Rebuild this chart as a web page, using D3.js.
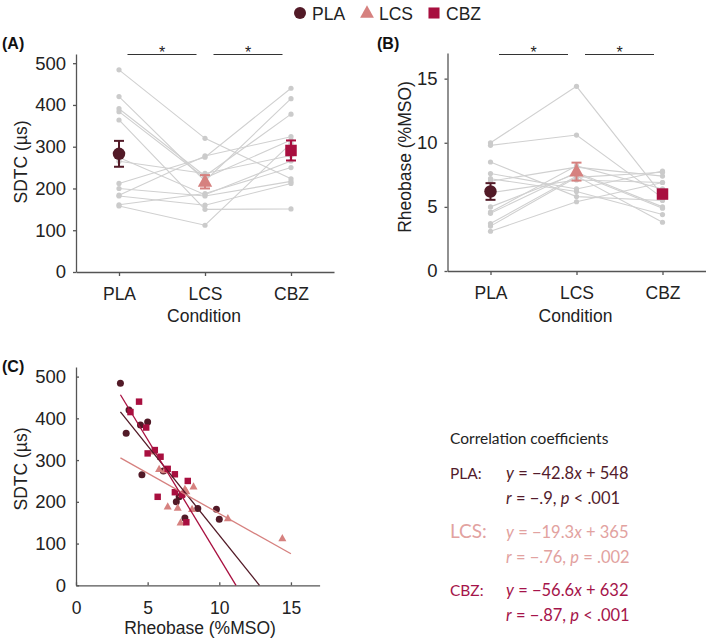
<!DOCTYPE html>
<html>
<head>
<meta charset="utf-8">
<script src="https://cdn.jsdelivr.net/npm/d3@7"></script>
<style>
  html, body { margin: 0; padding: 0; background: #fff; }
  svg { display: block; }
</style>
</head>
<body>
<svg id="chart" width="709" height="644"></svg>
<script>
// ---------------- DATA ----------------
const conditions = ["PLA", "LCS", "CBZ"];

// per-subject values (same subject order in every array)
const sdtcPLA = [484, 158, 182, 364, 212, 184, 200, 161, 274, 420, 391, 384, 265];
const sdtcLCS = [320, 112, 160, 150, 275, 278, 182, 188, 185, 218, 230, 225, 236];
const sdtcCBZ = [223, 308, 212, 151, 440, 324, 217, 250, 266, 415, 378, 316, 279];

const rbPLA = [3.1, 10.0, 9.8, 3.5, 7.2, 8.5, 7.0, 7.6, 6.1, 3.7, 5.0, 4.5, 4.6];
const rbLCS = [5.4, 14.4, 10.6, 7.3, 6.2, 5.8, 8.1, 6.4, 7.1, 7.4, 7.6, 7.7, 8.2];
const rbCBZ = [6.9, 5.9, 5.7, 7.7, 4.4, 5.5, 7.4, 7.8, 6.9, 3.8, 4.9, 5.0, 6.4];

// group means and SEM as plotted
const sdtcMean = [283, 216, 291];
const sdtcSem  = [31, 16, 24];
const rbMean   = [6.2, 7.75, 6.0];
const rbSem    = [0.65, 0.7, 0.3];

// regression lines  (y = slope * x + intercept)
const regSlope     = [-42.8, -19.3, -56.6];
const regIntercept = [548, 365, 632];
const eqText = ["y = \u221242.8x + 548", "y = \u221219.3x + 365", "y = \u221256.6x + 632"];
const rText  = [["r = \u2212.9, ", "p", " < .001"], ["r = \u2212.76, ", "p", " = .002"], ["r = \u2212.87, ", "p", " < .001"]];

const yTicksSDTC = [0, 100, 200, 300, 400, 500];
const yTicksRb   = [0, 5, 10, 15];
const xTicksRb   = [0, 5, 10, 15];

// ---------------- STYLE ----------------
const colors = { PLA: "#521a27", LCS: "#d6817f", CBZ: "#a80f3f" };
const textColors = { PLA: "#531c2c", LCS: "#e2a2a0", CBZ: "#a5144a" };
const grayLine = "#d0d0d0", grayPt = "#cbcbcb", axisColor = "#555";
const FONT = "Liberation Sans, Arial, Helvetica, sans-serif";

const svg = d3.select("#chart");
svg.append("rect").attr("width", 709).attr("height", 644).attr("fill", "#fff");

const sdtc = { PLA: sdtcPLA, LCS: sdtcLCS, CBZ: sdtcCBZ };
const rb = { PLA: rbPLA, LCS: rbLCS, CBZ: rbCBZ };

function marker(g, cond, x, y, size) {
  if (cond === "PLA") {
    g.append("circle").attr("cx", x).attr("cy", y).attr("r", size * 0.5).attr("fill", colors.PLA);
  } else if (cond === "LCS") {
    const s = size * 1.15, h = s * 0.9;
    g.append("path").attr("d", `M${x},${y - h * 0.62}L${x + s / 2},${y + h * 0.38}L${x - s / 2},${y + h * 0.38}Z`).attr("fill", colors.LCS);
  } else {
    const s = size * 0.92;
    g.append("rect").attr("x", x - s / 2).attr("y", y - s / 2).attr("width", s).attr("height", s).attr("fill", colors.CBZ);
  }
}

function styleAxis(g) {
  g.select(".domain").attr("stroke", axisColor).attr("stroke-width", 1.3);
  g.selectAll(".tick line").attr("stroke", axisColor).attr("stroke-width", 1.3);
  g.selectAll(".tick text").attr("fill", "#222").attr("font-size", 17.5).attr("font-family", FONT);
}

// ---------------- LEGEND ----------------
const legend = svg.append("g");
const legX = [300, 367, 434];
conditions.forEach((c, i) => {
  marker(legend, c, legX[i], 13, 12);
  legend.append("text").attr("x", legX[i] + 12).attr("y", 19.5).text(c)
    .attr("font-family", FONT).attr("font-size", 17.5).attr("fill", "#222");
});

// ---------------- PANEL PLOT (A & B) ----------------
function conditionPanel(opts) {
  const { x0, x1, yBottom, yTop, domainMax, values, means, sems, ticks, label, labelX, yTitle, yTitleX, yTitleY } = opts;
  const x = d3.scalePoint().domain(conditions).range([x0, x1]).padding(0.5);
  const y = d3.scaleLinear().domain([0, domainMax]).range([yBottom, yTop]);
  const g = svg.append("g");

  // axes
  const ax = g.append("g").attr("transform", `translate(0,${yBottom})`)
    .call(d3.axisBottom(x).tickSizeInner(4).tickSizeOuter(0).tickPadding(12));
  styleAxis(ax);
  const ay = g.append("g").attr("transform", `translate(${x0},0)`)
    .call(d3.axisLeft(y).tickValues(ticks).tickSizeInner(3).tickSizeOuter(0).tickPadding(7));
  styleAxis(ay);
  ay.selectAll(".tick text").attr("font-size", 18.5);

  // subject lines
  const n = values.PLA.length;
  for (let i = 0; i < n; i++) {
    const pts = conditions.map(c => [x(c), y(values[c][i])]);
    g.append("path").attr("d", d3.line()(pts)).attr("fill", "none")
      .attr("stroke", grayLine).attr("stroke-width", 1.1);
  }
  conditions.forEach(c => {
    values[c].forEach(v => {
      g.append("circle").attr("cx", x(c)).attr("cy", y(v)).attr("r", 2.6).attr("fill", grayPt);
    });
  });

  // means with SEM
  conditions.forEach((c, i) => {
    const cx = x(c), yt = y(means[i] + sems[i]), yb = y(means[i] - sems[i]);
    const eg = g.append("g").attr("stroke", colors[c]).attr("stroke-width", 2);
    eg.append("line").attr("x1", cx).attr("x2", cx).attr("y1", yt).attr("y2", yb);
    eg.append("line").attr("x1", cx - 5).attr("x2", cx + 5).attr("y1", yt).attr("y2", yt);
    eg.append("line").attr("x1", cx - 5).attr("x2", cx + 5).attr("y1", yb).attr("y2", yb);
    marker(g, c, cx, y(means[i]), 12.5);
  });

  // significance bars
  [[0, 1], [1, 2]].forEach(([a, b]) => {
    const xa = x(conditions[a]) + 8.5, xb = x(conditions[b]) - 8.5;
    g.append("line").attr("x1", xa).attr("x2", xb).attr("y1", 54.5).attr("y2", 54.5)
      .attr("stroke", "#333").attr("stroke-width", 1.1);
    g.append("text").attr("x", (xa + xb) / 2).attr("y", 58).attr("text-anchor", "middle")
      .attr("font-family", FONT).attr("font-size", 16).attr("fill", "#222").text("*");
  });

  // titles
  g.append("text").attr("x", (x0 + x1) / 2 - 1).attr("y", 322).attr("text-anchor", "middle")
    .attr("font-family", FONT).attr("font-size", 17.5).attr("fill", "#222").text("Condition");
  g.append("text").attr("transform", `translate(${yTitleX},${yTitleY}) rotate(-90)`)
    .attr("text-anchor", "middle").attr("font-family", FONT).attr("font-size", 17.5)
    .attr("fill", "#222").text(yTitle);
  g.append("text").attr("x", labelX).attr("y", 49).attr("font-family", FONT)
    .attr("font-weight", "bold").attr("font-size", 16).attr("fill", "#111").text(label);
}

conditionPanel({
  x0: 76, x1: 334, yBottom: 272, yTop: 54, domainMax: 522,
  values: sdtc, means: sdtcMean, sems: sdtcSem, ticks: yTicksSDTC,
  label: "(A)", labelX: 2, yTitle: "SDTC (\u00b5s)", yTitleX: 27, yTitleY: 162
});
conditionPanel({
  x0: 447.5, x1: 705.5, yBottom: 271, yTop: 53, domainMax: 17,
  values: rb, means: rbMean, sems: rbSem, ticks: yTicksRb,
  label: "(B)", labelX: 377, yTitle: "Rheobase (%MSO)", yTitleX: 411, yTitleY: 157
});

// ---------------- PANEL C ----------------
const xC = d3.scaleLinear().domain([0, 17]).range([76, 319.6]);
const yC = d3.scaleLinear().domain([0, 523]).range([585.3, 367]);
const gC = svg.append("g");
const axC = gC.append("g").attr("transform", "translate(0,585.3)")
  .call(d3.axisBottom(xC).tickValues(xTicksRb).tickSizeInner(-3).tickSizeOuter(0).tickPadding(16));
styleAxis(axC);
const ayC = gC.append("g").attr("transform", "translate(76,0)")
  .call(d3.axisLeft(yC).tickValues(yTicksSDTC).tickSizeInner(-3).tickSizeOuter(0).tickPadding(10));
styleAxis(ayC);
ayC.selectAll(".tick text").attr("font-size", 18.5);

conditions.forEach(c => {
  rb[c].forEach((v, i) => marker(gC, c, xC(v), yC(sdtc[c][i]), 7));
});

const xMin = d3.min(conditions.flatMap(c => rb[c]));
conditions.forEach((c, i) => {
  const xEnd = Math.min(15, -regIntercept[i] / regSlope[i]);
  const f = v => regSlope[i] * v + regIntercept[i];
  gC.append("line").attr("x1", xC(xMin)).attr("y1", yC(f(xMin)))
    .attr("x2", xC(xEnd)).attr("y2", yC(f(xEnd)))
    .attr("stroke", colors[c]).attr("stroke-width", 1.3);
});

gC.append("text").attr("x", 200).attr("y", 634).attr("text-anchor", "middle")
  .attr("font-family", FONT).attr("font-size", 17.5).attr("fill", "#222").text("Rheobase (%MSO)");
gC.append("text").attr("transform", "translate(27,469) rotate(-90)").attr("text-anchor", "middle")
  .attr("font-family", FONT).attr("font-size", 17.5).attr("fill", "#222").text("SDTC (\u00b5s)");
gC.append("text").attr("x", 2).attr("y", 372).attr("font-family", FONT)
  .attr("font-weight", "bold").attr("font-size", 16).attr("fill", "#111").text("(C)");

// stats text
const SFONT = "Lato, 'Open Sans', sans-serif";
const statsX = 450, eqX = 506;
gC.append("text").attr("x", statsX).attr("y", 444).attr("font-family", SFONT)
  .attr("font-size", 15.5).attr("fill", "#222").text("Correlation coefficients");
const eqBase = [479, 538, 596];
conditions.forEach((c, i) => {
  gC.append("text").attr("x", statsX).attr("y", eqBase[i]).attr("font-family", SFONT)
    .attr("font-size", c === "LCS" ? 19 : 15.5).attr("fill", textColors[c]).text(c + ":");
  const t = gC.append("text").attr("x", eqX).attr("y", eqBase[i]).attr("font-family", SFONT)
    .attr("font-size", 16.5).attr("fill", textColors[c]);
  const eq = eqText[i];
  t.append("tspan").attr("font-style", "italic").text("y");
  t.append("tspan").text(eq.slice(1, eq.indexOf("x")));
  t.append("tspan").attr("font-style", "italic").text("x");
  t.append("tspan").text(eq.slice(eq.indexOf("x") + 1));
  const r = gC.append("text").attr("x", eqX).attr("y", eqBase[i] + 24.5).attr("font-family", SFONT)
    .attr("font-size", 16.5).attr("fill", textColors[c]);
  r.append("tspan").attr("font-style", "italic").text("r");
  r.append("tspan").text(rText[i][0].slice(1));
  r.append("tspan").attr("font-style", "italic").text(rText[i][1]);
  r.append("tspan").text(rText[i][2]);
});
</script>
</body>
</html>
